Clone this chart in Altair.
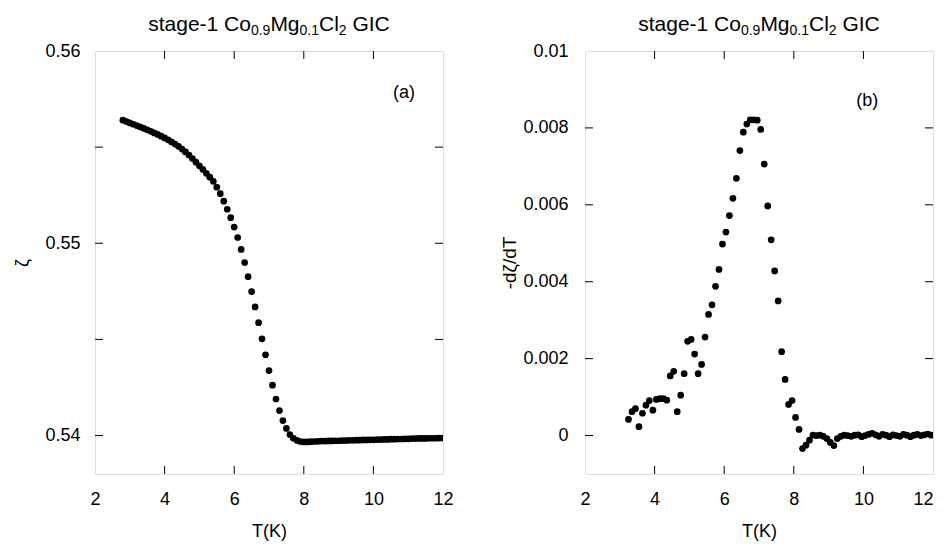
import altair as alt
import pandas as pd

# ---------------- data ----------------
T_zeta = [
    2.8, 2.9, 3.0, 3.1, 3.2, 3.3, 3.4, 3.5, 3.6, 3.7,
    3.8, 3.9, 4.0, 4.1, 4.2, 4.3, 4.4, 4.5, 4.6, 4.7,
    4.8, 4.9, 5.0, 5.1, 5.2, 5.3, 5.4, 5.5, 5.6, 5.7,
    5.8, 5.9, 6.0, 6.1, 6.2, 6.3, 6.4, 6.5, 6.6, 6.7,
    6.8, 6.9, 7.0, 7.1, 7.2, 7.3, 7.4, 7.5, 7.6, 7.7,
    7.8, 7.9, 8.0, 8.1, 8.2, 8.3, 8.4, 8.5, 8.6, 8.7,
    8.8, 8.9, 9.0, 9.1, 9.2, 9.3, 9.4, 9.5, 9.6, 9.7,
    9.8, 9.9, 10.0, 10.1, 10.2, 10.3, 10.4, 10.5, 10.6, 10.7,
    10.8, 10.9, 11.0, 11.1, 11.2, 11.3, 11.4, 11.5, 11.6, 11.7,
    11.8, 11.9, 12.0,
]
zeta = [
    0.55640, 0.55633, 0.55626, 0.55619, 0.55612, 0.55605, 0.55598, 0.55590, 0.55582, 0.55574,
    0.55566, 0.55557, 0.55548, 0.55538, 0.55527, 0.55516, 0.55504, 0.55490, 0.55475, 0.55459,
    0.55441, 0.55422, 0.55403, 0.55384, 0.55364, 0.55344, 0.55322, 0.55292, 0.55258, 0.55219,
    0.55177, 0.55133, 0.55084, 0.55030, 0.54968, 0.54900, 0.54826, 0.54749, 0.54669, 0.54587,
    0.54503, 0.54420, 0.54338, 0.54262, 0.54190, 0.54130, 0.54078, 0.54037, 0.54005, 0.53986,
    0.53975, 0.53969, 0.53967, 0.53967, 0.53968, 0.53969, 0.53970, 0.53971, 0.53971, 0.53972,
    0.53972, 0.53973, 0.53973, 0.53974, 0.53974, 0.53975, 0.53975, 0.53976, 0.53976, 0.53977,
    0.53977, 0.53978, 0.53978, 0.53979, 0.53979, 0.53980, 0.53980, 0.53981, 0.53981, 0.53982,
    0.53982, 0.53983, 0.53983, 0.53984, 0.53984, 0.53985, 0.53985, 0.53985, 0.53986, 0.53986,
    0.53986, 0.53987, 0.53987,
]

T_deriv = [
    3.25, 3.35, 3.45, 3.55, 3.65, 3.75, 3.85, 3.95, 4.05, 4.15,
    4.25, 4.35, 4.45, 4.55, 4.65, 4.75, 4.85, 4.95, 5.05, 5.15,
    5.25, 5.35, 5.45, 5.55, 5.65, 5.75, 5.85, 5.95, 6.05, 6.15,
    6.25, 6.35, 6.45, 6.55, 6.65, 6.75, 6.85, 6.95, 7.05, 7.15,
    7.25, 7.35, 7.45, 7.55, 7.65, 7.75, 7.85, 7.95, 8.05, 8.15,
    8.25, 8.35, 8.45, 8.55, 8.65, 8.75, 8.85, 8.95, 9.05, 9.15,
    9.25, 9.35, 9.45, 9.55, 9.65, 9.75, 9.85, 9.95, 10.05, 10.15,
    10.25, 10.35, 10.45, 10.55, 10.65, 10.75, 10.85, 10.95, 11.05, 11.15,
    11.25, 11.35, 11.45, 11.55, 11.65, 11.75, 11.85, 11.95,
]
deriv = [
    0.00042, 0.00062, 0.00070, 0.00023, 0.00058, 0.00079, 0.00091, 0.00066, 0.00094, 0.00096,
    0.00096, 0.00092, 0.00155, 0.00167, 0.00062, 0.00105, 0.00161, 0.00245, 0.00250, 0.00212,
    0.00161, 0.00185, 0.00256, 0.00315, 0.00340, 0.00388, 0.00432, 0.00498, 0.00529, 0.00572,
    0.00617, 0.00669, 0.00741, 0.00789, 0.00810, 0.00821, 0.00821, 0.00820, 0.00796, 0.00706,
    0.00597, 0.00509, 0.00428, 0.00350, 0.00218, 0.00146, 0.00081, 0.00091, 0.00047, 0.00016,
    -0.00034, -0.00025, -0.00012, 0.00001, 0.00000, 0.00001, -0.00002, -0.00008, -0.00018, -0.00026,
    -0.00008, -0.00002, 0.00001, 0.00000, -0.00002, 0.00001, 0.00002, -0.00003, 0.00000, 0.00003,
    0.00006, 0.00002, -0.00002, 0.00003, 0.00001, -0.00003, 0.00002, 0.00000, -0.00002, 0.00003,
    0.00001, -0.00003, 0.00001, 0.00003, 0.00000, 0.00002, 0.00004, 0.00001,
]

x_labels = [2, 4, 6, 8, 10, 12]
x_ticks = [4, 6, 8, 10]
zeta_labels = [0.54, 0.55, 0.56]
zeta_ticks = [0.54, 0.545, 0.55, 0.555]
deriv_labels = [0, 0.002, 0.004, 0.006, 0.008, 0.01]
deriv_ticks = [0, 0.002, 0.004, 0.006, 0.008]

panel_a_label = {"T": [10.88], "v": [0.5578], "txt": ["(a)"]}
panel_b_label = {"T": [10.11], "v": [0.0087], "txt": ["(b)"]}

# ---------------- styling ----------------
FONT = "Liberation Sans"
W, H = 348, 423
TICK_LEN = 8
one = pd.DataFrame({"k": [0]})

# Arial/Liberation Sans advance widths (em)
ADV = {"s": 0.5, "t": 0.278, "a": 0.556, "g": 0.556, "e": 0.556, "-": 0.333,
       "1": 0.556, " ": 0.278, "C": 0.722, "o": 0.556, "0": 0.556, ".": 0.278,
       "9": 0.556, "M": 0.833, "l": 0.222, "2": 0.556, "G": 0.778, "I": 0.278}

MAIN, SUB = 21, 14
segments = [("stage-1 Co", MAIN), ("0.9", SUB), ("Mg", MAIN), ("0.1", SUB),
            ("Cl", MAIN), ("2", SUB), (" GIC", MAIN)]


def seg_width(s, size):
    return sum(ADV[c] for c in s) * size


def title_layers():
    total = sum(seg_width(s, z) for s, z in segments)
    x0 = W / 2 - total / 2
    layers = []
    for s, z in segments:
        txt = s.lstrip(" ")
        lead = seg_width(s[: len(s) - len(txt)], z)
        base = -20 if z == MAIN else -16
        layers.append(
            alt.Chart(one).mark_text(
                text=txt, font=FONT, fontSize=z, align="left",
                baseline="alphabetic", color="black"
            ).encode(x=alt.value(x0 + lead), y=alt.value(base))
        )
        x0 += seg_width(s, z)
    return layers


def panel(T, vals, ydom, ylabels, yticks, ytitle, lab, ylabpad, ytitlepad,
          ytitlesize, xlabel_align):
    df = pd.DataFrame({"T": T, "v": vals})
    xs = alt.Scale(domain=[2, 12], nice=False, zero=False)
    ys = alt.Scale(domain=ydom, nice=False, zero=False)
    xax = alt.Axis(values=x_labels, ticks=False, domain=False, grid=False,
                   labelPadding=16, labelFlush=False, labelAlign=xlabel_align,
                   title="T(K)", titlePadding=14,
                   labelFont=FONT, titleFont=FONT, labelFontSize=18, titleFontSize=18,
                   titleFontWeight="normal", labelColor="black", titleColor="black")
    yax = alt.Axis(values=ylabels, format="~g", ticks=False, domain=False, grid=False,
                   labelPadding=ylabpad, labelFlush=False, title=ytitle,
                   titlePadding=ytitlepad,
                   labelFont=FONT, titleFont=FONT, labelFontSize=18,
                   titleFontSize=ytitlesize,
                   titleFontWeight="normal", labelColor="black", titleColor="black")

    pts = alt.Chart(df).mark_circle(size=45, color="black", opacity=1, clip=True).encode(
        x=alt.X("T:Q", scale=xs, axis=xax),
        y=alt.Y("v:Q", scale=ys, axis=yax),
    )
    xt = pd.DataFrame({"T": x_ticks})
    yt = pd.DataFrame({"v": yticks})
    rule = dict(color="black", strokeWidth=1)
    bottom = alt.Chart(xt).mark_rule(**rule).encode(
        x=alt.X("T:Q", scale=xs), y=alt.value(H), y2=alt.value(H - TICK_LEN))
    top = alt.Chart(xt).mark_rule(**rule).encode(
        x=alt.X("T:Q", scale=xs), y=alt.value(0), y2=alt.value(TICK_LEN))
    left = alt.Chart(yt).mark_rule(**rule).encode(
        y=alt.Y("v:Q", scale=ys), x=alt.value(0), x2=alt.value(TICK_LEN))
    right = alt.Chart(yt).mark_rule(**rule).encode(
        y=alt.Y("v:Q", scale=ys), x=alt.value(W), x2=alt.value(W - TICK_LEN))
    ann = alt.Chart(pd.DataFrame(lab)).mark_text(
        font=FONT, fontSize=18, color="black", align="center", baseline="middle"
    ).encode(x=alt.X("T:Q", scale=xs), y=alt.Y("v:Q", scale=ys), text="txt:N")

    return alt.layer(pts, bottom, top, left, right, ann, *title_layers()).properties(
        width=W, height=H)


left_panel = panel(T_zeta, zeta, [0.538, 0.56], zeta_labels, zeta_ticks, "ζ",
                   panel_a_label, 15, 13, 18, "center")
right_panel = panel(T_deriv, deriv, [-0.001, 0.01], deriv_labels, deriv_ticks, "-dζ/dT",
                    panel_b_label, 17, 3, 19,
                    {"condition": {"test": "datum.value == 12", "value": "right"},
                     "value": "center"})

chart = alt.hconcat(left_panel, right_panel, spacing=46).configure_view(
    stroke="black", strokeWidth=1.5
).configure(
    background="white",
    padding={"left": 5, "top": 5, "right": 0, "bottom": 0},
)

chart.save("out.html", embed_options={"renderer": "svg", "actions": False})
